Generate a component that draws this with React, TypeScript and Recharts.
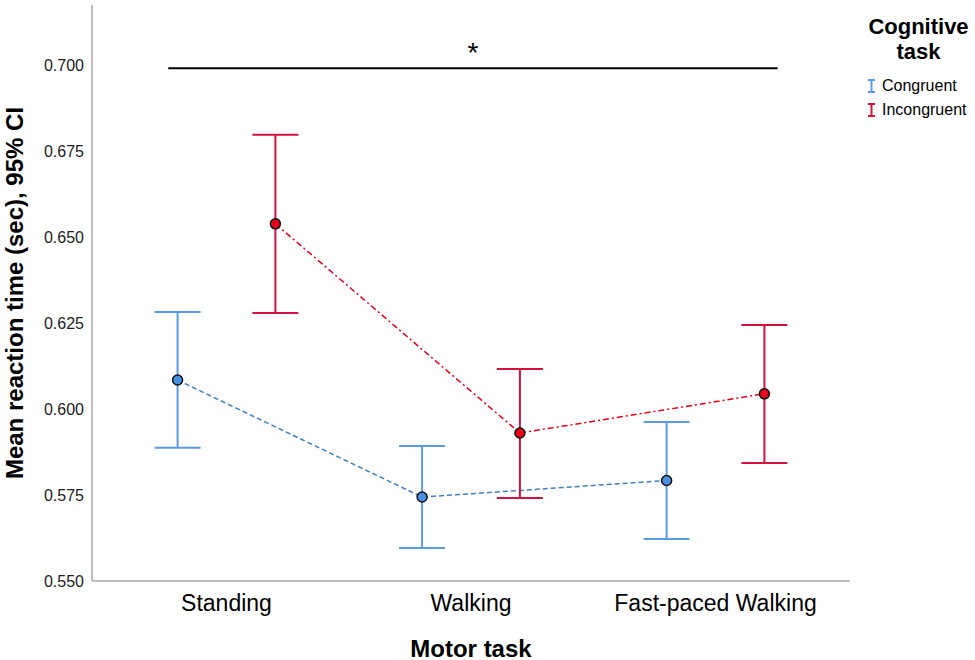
import React from "react";
import {
  ComposedChart,
  Line,
  XAxis,
  YAxis,
  ErrorBar,
  ReferenceLine,
  ReferenceDot,
} from "recharts";

const motorTasks = ["Standing", "Walking", "Fast-paced Walking"];

// means and 95% CI bounds
const congruentMean = [0.6084, 0.5744, 0.5792];
const congruentLow = [0.5887, 0.5596, 0.5622];
const congruentHigh = [0.6282, 0.5892, 0.5962];

const incongruentMean = [0.6538, 0.593, 0.6044];
const incongruentLow = [0.6279, 0.5741, 0.5843];
const incongruentHigh = [0.6797, 0.6116, 0.6244];

const yTicks = [0.55, 0.575, 0.6, 0.625, 0.65, 0.675, 0.7];

const sigY = 0.699;
const sigFrom = -0.238;
const sigTo = 2.254;

const FONT = "Arial, 'Liberation Sans', sans-serif";

function build(mean: number[], low: number[], high: number[], shift: number) {
  return mean.map((m, i) => ({
    x: i + shift,
    y: m,
    err: [m - low[i], high[i] - m],
  }));
}

const congruentData = build(congruentMean, congruentLow, congruentHigh, -0.2);
const incongruentData = build(incongruentMean, incongruentLow, incongruentHigh, 0.2);

function YTitle(props: any) {
  const vb = props.viewBox || {};
  const x = (vb.x || 0) + 14;
  const y = (vb.y || 0) + (vb.height || 0) / 2;
  return (
    <text
      x={x}
      y={y}
      transform={`rotate(-90 ${x} ${y})`}
      textAnchor="middle"
      dominantBaseline="central"
      fontFamily={FONT}
      fontWeight="bold"
      fontSize={24}
      fill="#000"
    >
      Mean reaction time (sec), 95% CI
    </text>
  );
}

function XTitle(props: any) {
  const vb = props.viewBox || {};
  const x = (vb.x || 0) + (vb.width || 0) / 2;
  return (
    <text
      x={x}
      y={648}
      textAnchor="middle"
      dominantBaseline="central"
      fontFamily={FONT}
      fontWeight="bold"
      fontSize={24}
      fill="#000"
    >
      Motor task
    </text>
  );
}

function Icon({ color }: { color: string }) {
  return (
    <svg width={9} height={14} style={{ marginRight: 6 }}>
      <line x1={1} y1={1} x2={8} y2={1} stroke={color} strokeWidth={2} />
      <line x1={4.5} y1={1} x2={4.5} y2={13} stroke={color} strokeWidth={2} />
      <line x1={1} y1={13} x2={8} y2={13} stroke={color} strokeWidth={2} />
    </svg>
  );
}

function LegendBox() {
  return (
    <div
      style={{
        position: "absolute",
        left: 852,
        top: 14,
        width: 123,
        fontFamily: FONT,
        color: "#000",
      }}
    >
      <div style={{ fontWeight: "bold", fontSize: 22, lineHeight: "25px", textAlign: "center", paddingLeft: 10 }}>
        <div>Cognitive</div>
        <div>task</div>
      </div>
      <div style={{ marginTop: 10, marginLeft: 15, fontSize: 16, lineHeight: "24px" }}>
        <div style={{ display: "flex", alignItems: "center" }}>
          <Icon color="#5B9BE5" />
          Congruent
        </div>
        <div style={{ display: "flex", alignItems: "center" }}>
          <Icon color="#D1123F" />
          Incongruent
        </div>
      </div>
    </div>
  );
}

export default function App() {
  return (
    <div style={{ position: "absolute", left: 0, top: 0, width: 975, height: 660, background: "#fff" }}>
      <ComposedChart width={975} height={660} margin={{ top: 5, right: 125, bottom: 0, left: 0 }}>
        <XAxis
          type="number"
          dataKey="x"
          domain={[-0.55, 2.55]}
          ticks={[0, 1, 2]}
          tickFormatter={(v: number) => motorTasks[v] ?? ""}
          allowDataOverflow
          tickLine={false}
          tickMargin={8}
          height={79}
          stroke="#7f7f7f"
          tick={{ fill: "#000", fontSize: 23, fontFamily: FONT }}
          label={<XTitle />}
        />
        <YAxis
          type="number"
          domain={[0.55, 0.7174]}
          ticks={yTicks}
          allowDataOverflow
          tickFormatter={(v: number) => v.toFixed(3)}
          tickLine={false}
          width={92}
          stroke="#7f7f7f"
          tick={{ fill: "#222", fontSize: 16, fontFamily: FONT }}
          label={<YTitle />}
        />
        <ReferenceLine
          segment={[
            { x: sigFrom, y: sigY },
            { x: sigTo, y: sigY },
          ]}
          stroke="#000"
          strokeWidth={2}
          ifOverflow="visible"
        />
        <ReferenceDot
          x={(sigFrom + sigTo) / 2}
          y={sigY}
          r={0}
          ifOverflow="visible"
          label={{ value: "*", position: "top", offset: 6, fontSize: 28, fill: "#000", fontFamily: FONT }}
        />
        <Line
          data={congruentData}
          dataKey="y"
          type="linear"
          stroke="#3F7FC4"
          strokeWidth={1.5}
          strokeDasharray="5 3"
          dot={{ r: 5, fill: "#4A90E2", stroke: "#111", strokeWidth: 1.5, strokeDasharray: "0" }}
          isAnimationActive={false}
        >
          <ErrorBar dataKey="err" direction="y" width={23} stroke="#5B9BE5" strokeWidth={2} />
        </Line>
        <Line
          data={incongruentData}
          dataKey="y"
          type="linear"
          stroke="#E3001B"
          strokeWidth={1.5}
          strokeDasharray="6 3 2 3"
          dot={{ r: 5, fill: "#E8001C", stroke: "#111", strokeWidth: 1.5, strokeDasharray: "0" }}
          isAnimationActive={false}
        >
          <ErrorBar dataKey="err" direction="y" width={23} stroke="#D1123F" strokeWidth={2} />
        </Line>
      </ComposedChart>
      <LegendBox />
    </div>
  );
}
